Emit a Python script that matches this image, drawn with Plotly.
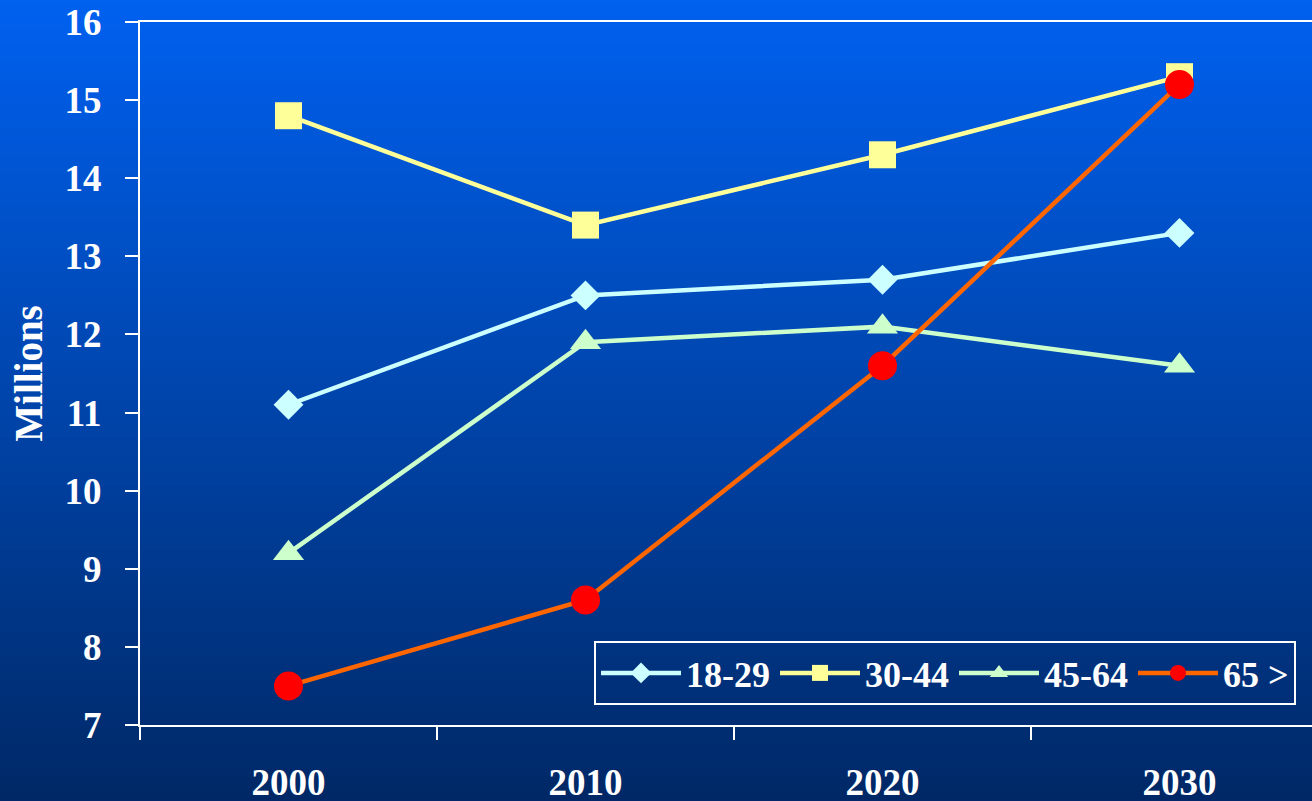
import plotly.graph_objects as go

years = ["2000", "2010", "2020", "2030"]
age_18_29 = [11.1, 12.5, 12.7, 13.3]
age_30_44 = [14.8, 13.4, 14.3, 15.3]
age_45_64 = [9.2, 11.9, 12.1, 11.6]
age_65_up = [7.5, 8.6, 11.6, 15.2]
series_names = ["18-29", "30-44", "45-64", "65 >"]
y_ticks = [7, 8, 9, 10, 11, 12, 13, 14, 15, 16]

W, H = 1312, 801
L, T, B = 140, 22, 76
plot_h = H - T - B
plot_w = W - L

FONT = "Liberation Serif"

fig = go.Figure()

styles = [
    dict(line_color="#CCFFFF", marker=dict(symbol="diamond", size=23, color="#CCFFFF")),
    dict(line_color="#FFFF99", marker=dict(symbol="square", size=27, color="#FFFF99")),
    dict(line_color="#CCFFCC", marker=dict(symbol="triangle-up", size=27, color="#CCFFCC")),
    dict(line_color="#FF6600", marker=dict(symbol="circle", size=29, color="#FF0000")),
]
for name, vals, st in zip(series_names, [age_18_29, age_30_44, age_45_64, age_65_up], styles):
    fig.add_trace(go.Scatter(
        x=years, y=vals, name=name, mode="lines+markers",
        line=dict(color=st["line_color"], width=4.5),
        marker=dict(symbol=st["marker"]["symbol"], size=st["marker"]["size"],
                    color=st["marker"]["color"], line=dict(width=0)),
    ))

# vertical gradient background
shapes = []
n = 100
y_top = 1 + T / plot_h
y_bot = -B / plot_h
top_c = (0, 97, 240)
bot_c = (0, 40, 102)
for i in range(n):
    f = (i + 0.5) / n
    c = tuple(round(top_c[k] + (bot_c[k] - top_c[k]) * f) for k in range(3))
    y1 = y_top - (y_top - y_bot) * i / n
    y0 = y_top - (y_top - y_bot) * (i + 1) / n
    shapes.append(dict(type="rect", xref="paper", yref="paper",
                       x0=-L / plot_w - 0.01, x1=1.01, y0=y0 - 0.002, y1=y1 + 0.002,
                       fillcolor="rgb(%d,%d,%d)" % c, line=dict(width=0), layer="below"))

x_end = -0.5 + plot_w / 297.0

fig.update_layout(
    width=W, height=H,
    margin=dict(l=L, r=0, t=T, b=B, autoexpand=False),
    paper_bgcolor="rgb(0,70,180)",
    plot_bgcolor="rgba(0,0,0,0)",
    shapes=shapes,
    font=dict(family=FONT, color="white", size=37),
    showlegend=True,
    legend=dict(
        orientation="h", x=(594 - L) / plot_w, y=(725 - 705) / plot_h,
        xanchor="left", yanchor="bottom",
        bgcolor="rgba(0,0,0,0)", bordercolor="white", borderwidth=2,
        font=dict(family=FONT, size=36, color="white", weight="bold"),
        itemwidth=80, tracegroupgap=0,
    ),
    xaxis=dict(
        type="category", range=[-0.5, x_end], automargin=False,
        showline=True, linecolor="white", linewidth=2, mirror=True,
        showgrid=False, zeroline=False,
        ticks="outside", ticklen=13, tickcolor="white", tickwidth=2,
        tickson="boundaries", ticklabelstandoff=24,
        tickfont=dict(family=FONT, size=37, color="white", weight="bold"),
    ),
    yaxis=dict(
        range=[7, 16], tickvals=y_ticks, automargin=False,
        showline=True, linecolor="white", linewidth=2,
        showgrid=False, zeroline=False,
        ticks="outside", ticklen=13, tickcolor="white", tickwidth=2,
        ticklabelstandoff=16,
        tickfont=dict(family=FONT, size=37, color="white", weight="bold"),
        title=dict(text="Millions", standoff=10,
                   font=dict(family=FONT, size=39, color="white", weight="bold")),
    ),
)

fig.write_html(
    "out.html",
    config={"displayModeBar": False},
    post_script="document.body.style.margin='0';document.body.style.overflow='hidden';",
)
